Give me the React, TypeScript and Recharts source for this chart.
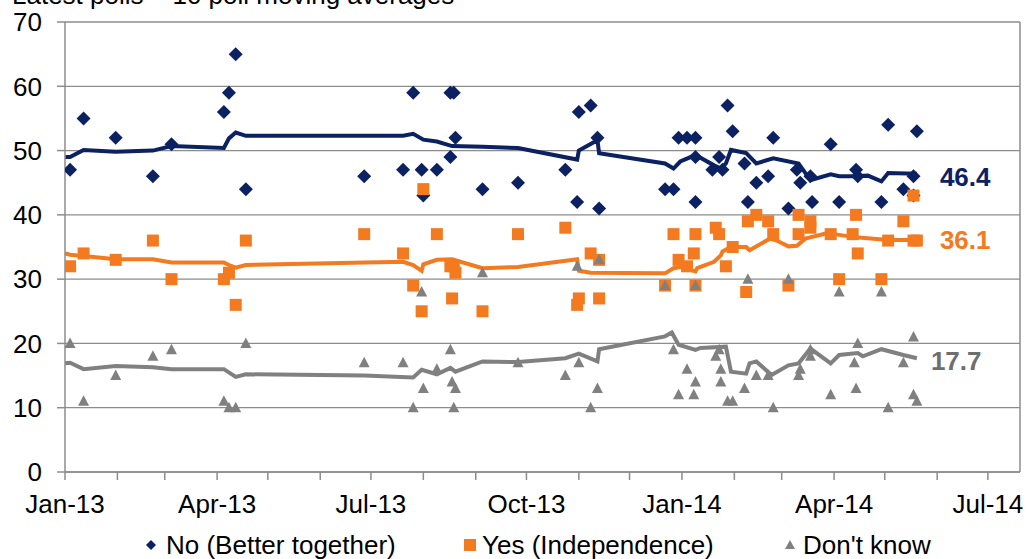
import React from 'react';
import { ComposedChart, Line, Scatter, XAxis, YAxis, CartesianGrid, ReferenceLine } from 'recharts';

const FONT = '"Liberation Sans", Arial, sans-serif';
const NAVY = '#0B2161';
const ORANGE = '#F47A20';
const GRAY = '#808080';
const GRID = '#8C8C8C';

// days since 1 Jan 2013
const monthTicks = [0, 31, 59, 90, 120, 151, 181, 212, 243, 273, 304, 334, 365, 396, 424, 455, 485, 516, 546];
const monthLabels = ['Jan-13', '', '', 'Apr-13', '', '', 'Jul-13', '', '', 'Oct-13', '', '', 'Jan-14', '', '', 'Apr-14', '', '', 'Jul-14'];
const yTicks = [0, 10, 20, 30, 40, 50, 60, 70];

const noPolls: [number, number][] = [
  [3, 47], [11, 55], [30, 52], [52, 46], [63, 51], [94, 56], [97, 59], [101, 65], [107, 44], [177, 46],
  [200, 47], [206, 59], [211, 47], [212, 43], [220, 47], [228, 49], [228, 59], [230, 59], [231, 52], [247, 44],
  [268, 45], [296, 47], [303, 42], [304, 56], [311, 57], [315, 52], [316, 41], [355, 44], [360, 44], [363, 52],
  [368, 52], [373, 52], [373, 49], [373, 42], [383, 47], [387, 49], [389, 47], [392, 57], [395, 53], [402, 48],
  [404, 42], [409, 45], [416, 46], [419, 52], [428, 41], [433, 47], [435, 45], [441, 46], [442, 42], [453, 51],
  [458, 42], [468, 47], [469, 46], [483, 42], [487, 54], [496, 44], [502, 46], [502, 43], [504, 53],
];

const yesPolls: [number, number][] = [
  [3, 32], [11, 34], [30, 33], [52, 36], [63, 30], [94, 30], [97, 31], [101, 26], [107, 36], [177, 37],
  [200, 34], [206, 29], [211, 25], [212, 44], [220, 37], [228, 32], [229, 27], [230, 32], [231, 31], [247, 25],
  [268, 37], [296, 38], [303, 26], [304, 27], [311, 34], [316, 27], [316, 33], [355, 29], [360, 37], [363, 33],
  [368, 32], [372, 34], [373, 29], [373, 37], [385, 38], [387, 37], [391, 32], [395, 35], [403, 28], [404, 39],
  [409, 40], [416, 39], [419, 37], [428, 29], [434, 40], [434, 37], [441, 39], [441, 38], [453, 37], [458, 30],
  [468, 40], [466, 37], [469, 34], [483, 30], [487, 36], [496, 39], [502, 43], [502, 36], [504, 36],
];

const dkPolls: [number, number][] = [
  [3, 20], [11, 11], [30, 15], [52, 18], [63, 19], [94, 11], [97, 10], [101, 10], [107, 20], [177, 17],
  [200, 17], [206, 10], [211, 28], [212, 13], [220, 16], [228, 19], [229, 14], [230, 10], [231, 13], [247, 31],
  [268, 17], [296, 15], [303, 32], [304, 17], [311, 10], [315, 13], [316, 33], [355, 29], [360, 19], [363, 12],
  [368, 16], [372, 12], [373, 14], [373, 29], [385, 18], [387, 19], [388, 16], [388, 14], [392, 11], [395, 11],
  [402, 13], [404, 30], [409, 15], [416, 15], [419, 10], [428, 30], [434, 15], [435, 16], [441, 19], [441, 18],
  [453, 12], [458, 28], [467, 17], [469, 20], [468, 13], [483, 28], [487, 10], [496, 17], [502, 21], [502, 12], [504, 11],
];

const noAvg: [number, number][] = [
  [0, 49], [3, 49], [11, 50.1], [30, 49.8], [52, 50], [63, 50.7], [94, 50.4], [97, 51.9], [101, 52.8], [107, 52.3],
  [200, 52.3], [206, 52.6], [212, 51.7], [220, 51.4], [229, 50.7], [247, 50.6], [268, 50.4], [303, 48.6], [304, 50],
  [315, 51.6], [316, 49.6], [355, 48], [360, 47.2], [364, 48.3], [373, 49.3], [384, 47.7], [388, 47.2], [391, 48],
  [394, 50.1], [403, 49.6], [409, 48], [419, 48.8], [434, 48], [441, 45.4], [453, 46.3], [458, 46], [468, 46],
  [475, 46.1], [483, 45.2], [487, 46.5], [504, 46.4],
];

const yesAvg: [number, number][] = [
  [0, 34], [3, 33.8], [11, 33.6], [30, 33.1], [52, 33.1], [63, 32.6], [94, 32.6], [97, 32.2], [101, 31.8], [107, 32.2],
  [200, 32.7], [206, 32.2], [211, 31.3], [212, 32.3], [220, 33], [229, 33.1], [247, 31.7], [268, 31.9], [303, 33.1],
  [304, 31.3], [311, 31], [355, 30.9], [360, 31.7], [364, 31.9], [368, 31.6], [373, 31.2], [374, 31.7], [384, 32.7],
  [388, 33.7], [389, 34.3], [394, 35], [403, 35], [405, 34.5], [417, 36.3], [421, 36], [428, 35.1], [433, 35.2],
  [438, 36.3], [450, 37.1], [455, 37], [468, 36.5], [487, 36.1], [504, 36.1],
];

const dkAvg: [number, number][] = [
  [0, 16.9], [3, 17], [11, 16], [30, 16.5], [52, 16.3], [63, 16], [94, 16], [101, 14.8], [107, 15.2], [177, 15],
  [206, 14.7], [211, 15.9], [220, 15.2], [228, 16.2], [231, 15.6], [247, 17.2], [268, 17.1], [296, 17.7], [304, 18.4],
  [315, 17.2], [316, 19.1], [355, 21.1], [359, 21.7], [363, 19.8], [373, 19], [376, 19.3], [391, 19.5], [394, 15.6],
  [403, 15.3], [405, 16.9], [409, 17.2], [418, 15.1], [428, 16.6], [434, 16.9], [441, 19.2], [453, 16.9], [458, 18.2],
  [469, 18.5], [472, 18], [483, 19.1], [496, 18.2], [504, 17.7],
];

const legendItems = ['No (Better together)', 'Yes (Independence)', "Don't know"];
const titleText = 'Latest polls \u2013 10 poll moving averages';

const toPts = (arr: [number, number][]) => arr.map(([x, y]) => ({ x, y }));

const Diamond = (p: any) => {
  const { cx, cy } = p;
  if (cx == null || cy == null) return <g />;
  return <polygon points={`${cx},${cy - 7} ${cx + 7},${cy} ${cx},${cy + 7} ${cx - 7},${cy}`} fill={NAVY} />;
};
const Square = (p: any) => {
  const { cx, cy } = p;
  if (cx == null || cy == null) return <g />;
  return <rect x={cx - 6} y={cy - 6} width={12} height={12} fill={ORANGE} />;
};
const Triangle = (p: any) => {
  const { cx, cy } = p;
  if (cx == null || cy == null) return <g />;
  return <polygon points={`${cx},${cy - 6} ${cx + 5.5},${cy + 4.5} ${cx - 5.5},${cy + 4.5}`} fill={GRAY} />;
};

const endLabel = (color: string, n: number, dx: number, dy: number) => (props: any) => {
  const { x, y, index, value } = props;
  if (index !== n - 1) return <g />;
  return (
    <text x={x + dx} y={y + dy} fill={color} fontSize={26} fontWeight="bold" fontFamily={FONT}>
      {Number(value).toFixed(1)}
    </text>
  );
};

const XTick = (props: any) => {
  const { x, y, payload } = props;
  const i = monthTicks.indexOf(payload.value);
  const label = monthLabels[i];
  if (!label) return <g />;
  return (
    <text x={x} y={y} dy="0.71em" textAnchor="middle" fontSize={26} fill="#000" fontFamily={FONT}>
      {label}
    </text>
  );
};

export default function App() {
  return (
    <div style={{ position: 'absolute', left: 0, top: 0, width: 1031, height: 559, background: '#fff', fontFamily: FONT }}>
      <ComposedChart width={1031} height={559} margin={{ top: 22, right: 11, bottom: 30, left: 0 }}>
        <CartesianGrid vertical={false} stroke={GRID} strokeWidth={1.3} />
        <XAxis
          type="number"
          dataKey="x"
          domain={[0, 565]}
          ticks={monthTicks}
          interval={0}
          height={57}
          tickSize={8}
          tickMargin={15}
          axisLine={{ stroke: GRID, strokeWidth: 1.5 }}
          tickLine={{ stroke: GRID, strokeWidth: 1.5 }}
          tick={<XTick />}
          allowDataOverflow
        />
        <YAxis
          type="number"
          dataKey="y"
          domain={[0, 70]}
          ticks={yTicks}
          width={65}
          tickSize={8}
          tickMargin={15}
          axisLine={{ stroke: GRID, strokeWidth: 1.5 }}
          tickLine={{ stroke: GRID, strokeWidth: 1.5 }}
          tick={{ fontSize: 26, fill: '#000', fontFamily: FONT }}
          allowDataOverflow
        />
        <ReferenceLine x={565} stroke={GRID} strokeWidth={1.5} />
        <Line
          data={toPts(noAvg)}
          dataKey="y"
          type="linear"
          stroke={NAVY}
          strokeWidth={4}
          dot={false}
          isAnimationActive={false}
          label={endLabel(NAVY, noAvg.length, 23, 12)}
        />
        <Line
          data={toPts(yesAvg)}
          dataKey="y"
          type="linear"
          stroke={ORANGE}
          strokeWidth={4}
          dot={false}
          isAnimationActive={false}
          label={endLabel(ORANGE, yesAvg.length, 23, 9)}
        />
        <Line
          data={toPts(dkAvg)}
          dataKey="y"
          type="linear"
          stroke={GRAY}
          strokeWidth={4}
          dot={false}
          isAnimationActive={false}
          label={endLabel('#6E6E6E', dkAvg.length, 14, 12)}
        />
        <Scatter data={toPts(noPolls)} dataKey="y" shape={(p: any) => <Diamond {...p} />} isAnimationActive={false} />
        <Scatter data={toPts(yesPolls)} dataKey="y" shape={(p: any) => <Square {...p} />} isAnimationActive={false} />
        <Scatter data={toPts(dkPolls)} dataKey="y" shape={(p: any) => <Triangle {...p} />} isAnimationActive={false} />
      </ComposedChart>
      <svg width={1031} height={559} style={{ position: 'absolute', left: 0, top: 0, pointerEvents: 'none' }}>
        <text x={12} y={4} fontSize={26} fill="#000" fontFamily={FONT}>{titleText}</text>
        <polygon points="151,540 156,545 151,550 146,545" fill={NAVY} />
        <text x={166} y={554} fontSize={26} fill="#000" fontFamily={FONT}>{legendItems[0]}</text>
        <rect x={464} y={539} width={12} height={12} fill={ORANGE} />
        <text x={482} y={554} fontSize={26} fill="#000" fontFamily={FONT}>{legendItems[1]}</text>
        <polygon points="790,540 795,549 785,549" fill={GRAY} />
        <text x={803} y={554} fontSize={26} fill="#000" fontFamily={FONT}>{legendItems[2]}</text>
      </svg>
    </div>
  );
}
